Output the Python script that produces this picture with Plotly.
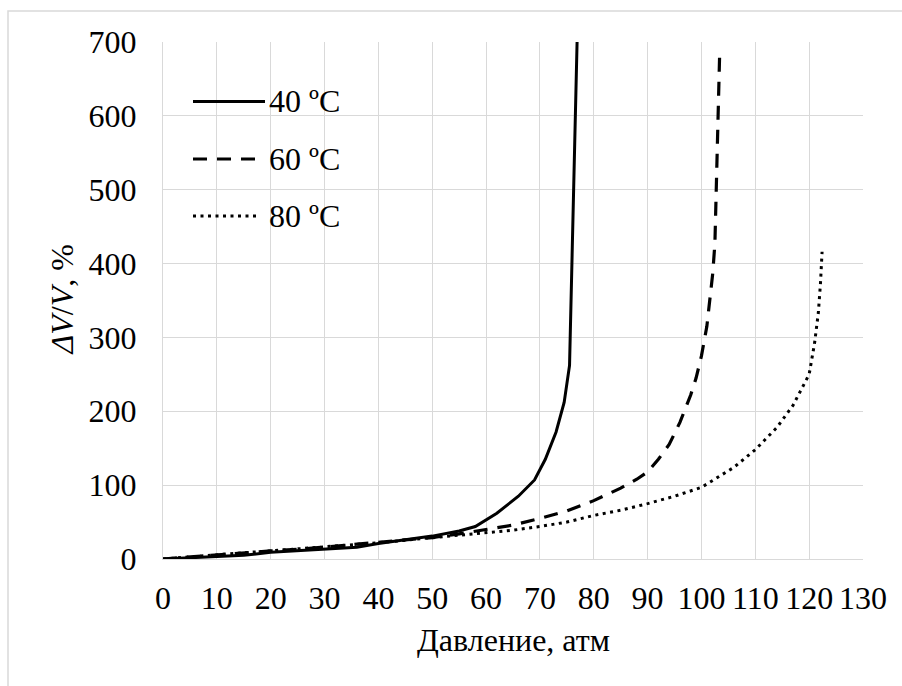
import plotly.graph_objects as go

# Pressure (atm) and relative volume change (%) for three temperatures
p40 = [0, 5, 10, 15, 20, 25, 30, 36, 40, 45, 50, 55, 58, 62, 66, 69, 71, 73, 74.5, 75.5, 76.9]
v40 = [0, 1.5, 3, 5, 9, 11.5, 13.5, 16, 21, 26, 31, 38, 44, 62, 85, 107, 135, 172, 212, 262, 700]

p60 = [0, 5, 10, 15, 20, 25, 30, 35, 40, 45, 50, 55, 60, 65, 70, 75, 80, 85, 88, 90, 92, 94,
       96, 98, 99, 100, 101, 101.6, 102.1, 102.5, 103.0, 103.4]
v60 = [0, 3, 6, 8, 11, 13, 16, 19, 22, 25, 29, 34, 40, 46, 55, 65, 79, 96, 108, 118, 135, 155,
       185, 222, 245, 275, 315, 350, 387, 428, 555, 690]

p80 = [0, 5, 10, 15, 20, 25, 30, 35, 40, 45, 50, 55, 60, 65, 70, 75, 80, 85, 90, 95, 100, 103,
       106, 110, 114, 117, 120, 121, 121.7, 122.1, 122.4]
v80 = [0, 3, 6, 8.5, 11, 13.5, 16, 19, 22, 25.5, 29, 32, 35, 39, 44, 50, 59, 66, 75, 85, 97, 110,
       124, 148, 178, 208, 250, 292, 333, 373, 416]

series_names = ["40 ºC", "60 ºC", "80 ºC"]
x_ticks = list(range(0, 131, 10))
y_ticks = list(range(0, 701, 100))

FONT = "Liberation Serif"
FS = 32
GRID = "#d9d9d9"

styles = [
    dict(color="black", width=3, dash="solid"),
    dict(color="black", width=3.2, dash="14px,10px"),
    dict(color="black", width=3, dash="3px,4.5px"),
]

fig = go.Figure()
for (px_, vy), name, st in zip([(p40, v40), (p60, v60), (p80, v80)], series_names, styles):
    fig.add_trace(go.Scatter(x=px_, y=vy, mode="lines", name=name, line=st,
                             showlegend=False, hoverinfo="x+y"))

# plot area in pixels
L, R, T, B = 163, 863, 42, 559
W, H = 902, 686


def paper_x(px):
    return (px - L) / (R - L)


def paper_y(py):
    return (B - py) / (B - T)


shapes = []
annotations = []

# outer chart border
shapes.append(dict(type="rect", xref="paper", yref="paper",
                   x0=paper_x(8), x1=paper_x(910), y0=paper_y(695), y1=paper_y(11),
                   line=dict(color=GRID, width=1.5), fillcolor="rgba(0,0,0,0)", layer="below"))

# legend entries
legend_rows = [(101.5, 265), (159, 263), (216, 258)]
for (row_y, x_end), name, st in zip(legend_rows, series_names, styles):
    shapes.append(dict(type="line", xref="paper", yref="paper",
                       x0=paper_x(193), x1=paper_x(x_end), y0=paper_y(row_y), y1=paper_y(row_y),
                       line=st))
    annotations.append(dict(text=name, xref="paper", yref="paper", x=paper_x(267), y=paper_y(row_y),
                            xanchor="left", yanchor="middle", showarrow=False,
                            font=dict(family=FONT, size=FS, color="black")))

# axis titles
annotations.append(dict(text="Давление, атм", xref="paper", yref="paper", x=0.5, y=paper_y(640),
                        xanchor="center", yanchor="middle", showarrow=False,
                        font=dict(family=FONT, size=FS, color="black")))
annotations.append(dict(text="<i>ΔV</i>/<i>V</i>, %", xref="paper", yref="paper", x=paper_x(61), y=0.5,
                        xanchor="center", yanchor="middle", textangle=-90, showarrow=False,
                        font=dict(family=FONT, size=FS, color="black")))

fig.update_layout(
    width=W, height=H,
    margin=dict(l=L, r=W - R, t=T, b=H - B, pad=0),
    paper_bgcolor="white", plot_bgcolor="white",
    font=dict(family=FONT, size=FS, color="black"),
    shapes=shapes, annotations=annotations,
    showlegend=False,
)
fig.update_xaxes(range=[0, 130], tickvals=x_ticks, ticktext=[str(t) for t in x_ticks],
                 showgrid=True, gridcolor=GRID, gridwidth=1.3,
                 zeroline=False, showline=True, linecolor=GRID, linewidth=1.3, mirror=False,
                 ticks="", ticklabelstandoff=10,
                 tickfont=dict(family=FONT, size=FS, color="black"), fixedrange=True)
fig.update_yaxes(range=[0, 700], tickvals=y_ticks, ticktext=[str(t) for t in y_ticks],
                 showgrid=True, gridcolor=GRID, gridwidth=1.3,
                 zeroline=False, showline=True, linecolor=GRID, linewidth=1.3,
                 ticks="", ticklabelstandoff=19,
                 tickfont=dict(family=FONT, size=FS, color="black"), fixedrange=True)

fig.write_html("out.html")
